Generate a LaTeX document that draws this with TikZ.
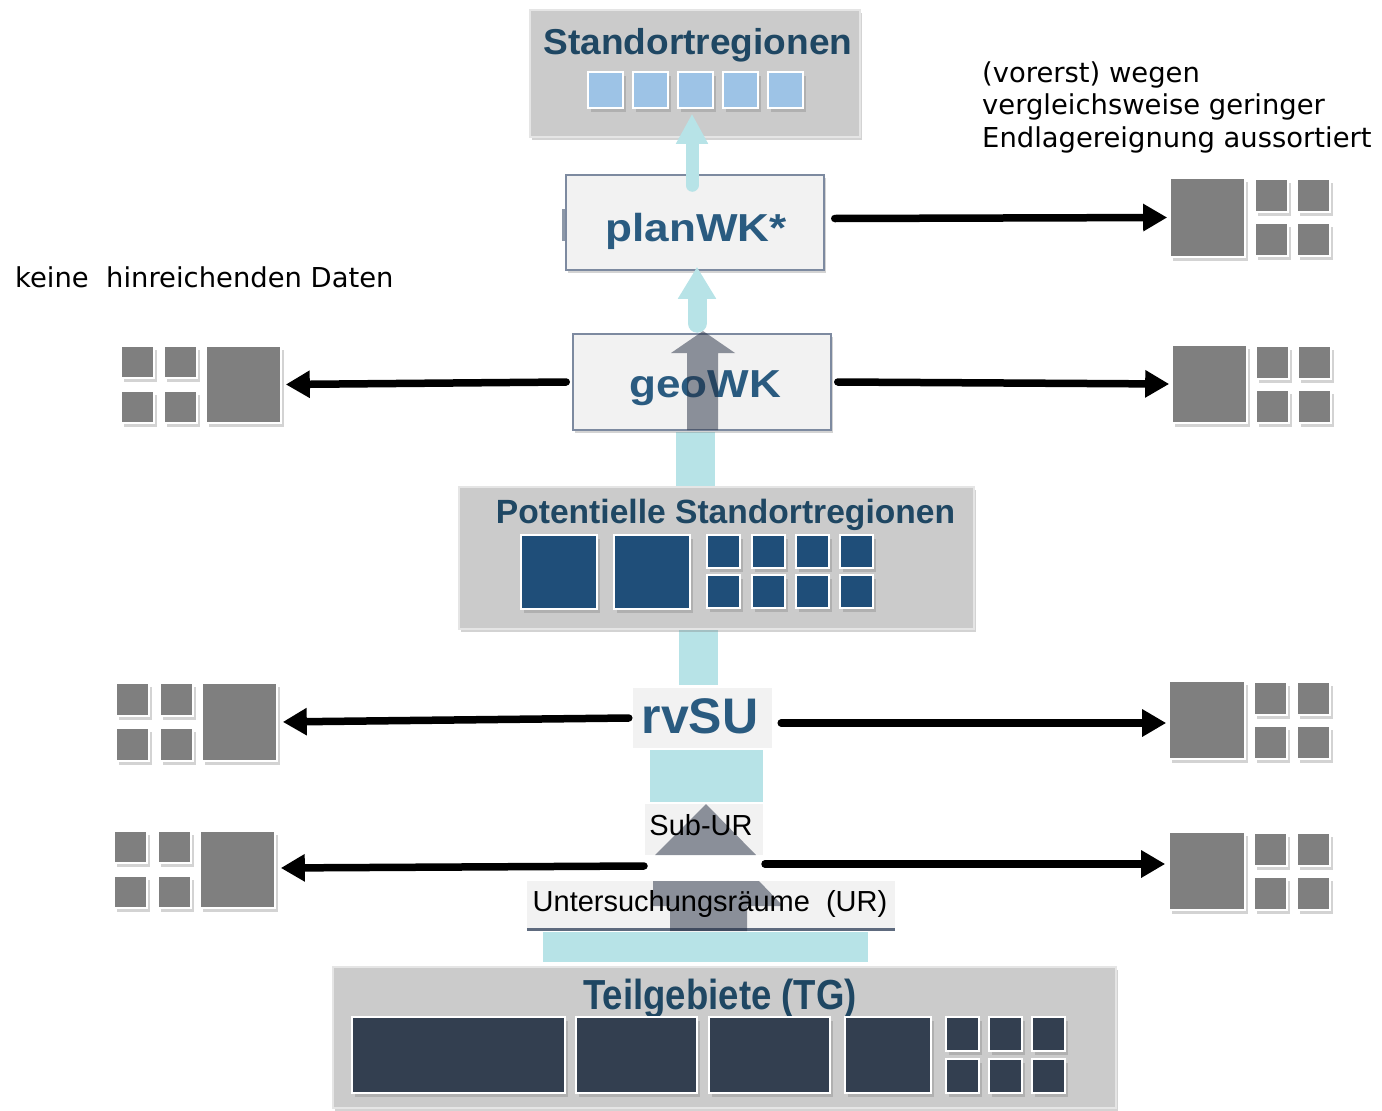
\documentclass[tikz,border=0pt]{standalone}
\usepackage{fontspec}
\usepackage{graphicx}
\setmainfont{Liberation Sans}
\newfontfamily\dejavu{DejaVu Sans}
\usetikzlibrary{arrows.meta,shadows}
\definecolor{boxgray}{HTML}{CBCBCB}
\definecolor{nodefill}{HTML}{F2F2F2}
\definecolor{nodeedge}{HTML}{7D8AA0}
\definecolor{titleblue}{HTML}{1F4763}
\definecolor{labelblue}{HTML}{2A5B80}
\definecolor{lightsq}{HTML}{9DC3E6}
\definecolor{darksq}{HTML}{1F4E79}
\definecolor{slatesq}{HTML}{333F50}
\definecolor{graysq}{HTML}{7F7F7F}
\definecolor{flowcyan}{HTML}{B7E3E7}
\definecolor{flowgray}{HTML}{242E42}
\definecolor{urline}{HTML}{5E6A7E}
\definecolor{stubgray}{HTML}{8D98A8}
\tikzset{
  panel/.style={draw=white!90!black, line width=1.5pt, fill=boxgray, inner sep=0pt,
    drop shadow={shadow xshift=2pt, shadow yshift=-3pt, opacity=0.35}},
  stage/.style={draw=nodeedge, line width=1.5pt, fill=nodefill, inner sep=0pt,
    drop shadow={shadow xshift=2pt, shadow yshift=-3pt, opacity=0.35}},
  flat/.style={fill=nodefill, inner sep=0pt},
  sq/.style={draw=white, line width=1.6pt,
    drop shadow={shadow xshift=2.5pt, shadow yshift=-3.5pt, opacity=0.35}},
  bigsq/.style={sq, fill=graysq, inner sep=0pt},
  titletext/.style={text=titleblue, inner sep=0pt, anchor=base},
  stagetext/.style={text=labelblue, inner sep=0pt, anchor=base},
  plaintext/.style={text=black, inner sep=0pt, anchor=base, font=\fontsize{29}{32}\selectfont},
  sidetext/.style={text=black, inner sep=0pt, anchor=base west, font=\dejavu\fontsize{27.4}{32}\selectfont},
  blk/.style={line width=7.5pt, line cap=round, -{Triangle[length=24pt,width=26pt]}},
  flowarrow/.style={flowcyan, line cap=round},
  ghost/.style={fill=flowgray, opacity=0.5},
}
\begin{document}
\begin{tikzpicture}[x=1pt,y=-1pt]
\useasboundingbox (0,0) rectangle (1382,1111);

% cyan connectors (background)
\fill[flowcyan] (676,432) rectangle (715,487);
\fill[flowcyan] (679,630) rectangle (718,685);
\fill[flowcyan] (650,750) rectangle (763,802);
\fill[flowcyan] (543,932) rectangle (868,962);

% Standortregionen
\node[panel, minimum width=330pt, minimum height=127pt] (std) at (695,73.5) {};
\node[titletext, font=\bfseries\fontsize{36}{40}\selectfont] (stdt) at (698,54) {\scalebox{1.03}[1]{Standortregionen}};
\foreach \x in {588,633,678,723,768} \path[sq, fill=lightsq] (\x,72) rectangle ++(35,36);

% planWK*
\fill[stubgray] (562,209) rectangle (567,241);
\node[stage, minimum width=258pt, minimum height=95pt] (planwk) at (695,222.5) {};
\node[stagetext, font=\bfseries\fontsize{39}{44}\selectfont] (planwkt) at (696,241) {\scalebox{1.13}[1]{planWK*}};
\draw[flowarrow, line width=13pt, -{Triangle[length=30pt,width=30pt]}]
  ([xshift=-3pt,yshift=-11pt]planwk.north) -- ([xshift=-3pt,yshift=24pt]std.south);

% geoWK
\node[stage, minimum width=258pt, minimum height=96pt] (geowk) at (702,382) {};
\node[stagetext, font=\bfseries\fontsize{39}{44}\selectfont] (geowkt) at (705,397) {\scalebox{1.13}[1]{geoWK}};
\fill[ghost] (687,430) -- (687,353) -- (671,353) -- (703,331) -- (735,353) -- (718,353) -- (718,430) -- cycle;
\draw[flowarrow, line width=19pt, -{Triangle[length=32pt,width=36pt]}]
  ([xshift=-5pt,yshift=10pt]geowk.north) -- ([xshift=2pt,yshift=4pt]planwk.south);

% Potentielle Standortregionen
\node[panel, minimum width=515pt, minimum height=142pt] (pot) at (716.5,558) {};
\node[titletext, font=\bfseries\fontsize{33.6}{38}\selectfont] (pott) at (725.5,523) {Potentielle Standortregionen};
\path[sq,fill=darksq] (521,535) rectangle (597,609);
\path[sq,fill=darksq] (614,535) rectangle (690,609);
\foreach \x in {707,752,796,840} {
  \path[sq,fill=darksq] (\x,535) rectangle ++(33,33);
  \path[sq,fill=darksq] (\x,575) rectangle ++(33,33);
}

% rvSU
\node[flat, minimum width=139pt, minimum height=60pt] (rvsu) at (702.5,718) {};
\node[stagetext, font=\bfseries\fontsize{50}{56}\selectfont] (rvsut) at (700,733) {rvSU};

% Sub-UR
\node[flat, minimum width=118pt, minimum height=51pt] (subur) at (704,829.5) {};
\fill[ghost] (706,804) -- (756,855) -- (655,855) -- cycle;
\node[plaintext] (subtouch) at (701,835) {Sub-UR};

% Untersuchungsraeume
\node[flat, minimum width=368pt, minimum height=47pt] (ur) at (711,904.5) {};
\draw[urline, line width=3pt] ([yshift=-1.5pt]ur.south west) -- ([yshift=-1.5pt]ur.south east);
\fill[ghost] (653,881) -- (759,881) -- (783,906) -- (747,906) -- (747,931) -- (670,931) -- (670,906) -- (653,906) -- cycle;
\node[plaintext] (urt) at (710,911) {Untersuchungsräume\ \ (UR)};

% Teilgebiete
\node[panel, minimum width=783pt, minimum height=141pt] (tg) at (724.5,1037.5) {};
\node[titletext, font=\bfseries\fontsize{42}{46}\selectfont] (tgt) at (720,1009) {\scalebox{0.87}[1]{Teilgebiete (TG)}};
\path[sq,fill=slatesq] (352,1017) rectangle (565,1093);
\path[sq,fill=slatesq] (576,1017) rectangle (697,1093);
\path[sq,fill=slatesq] (709,1017) rectangle (830,1093);
\path[sq,fill=slatesq] (845,1017) rectangle (931,1093);
\foreach \x in {946,989,1032} {
  \path[sq,fill=slatesq] (\x,1017) rectangle ++(33,34);
  \path[sq,fill=slatesq] (\x,1059) rectangle ++(33,34);
}

% grey groups right
\node[bigsq, minimum width=75pt, minimum height=79pt] (r1) at (1207.5,217.5) {};
\foreach \x in {1255,1297} \foreach \y in {179,223} \path[sq,fill=graysq] (\x,\y) rectangle ++(33,33);
\node[bigsq, minimum width=75pt, minimum height=78pt] (r2) at (1209.5,384) {};
\foreach \x in {1256,1298} \foreach \y in {346,390} \path[sq,fill=graysq] (\x,\y) rectangle ++(33,33);
\node[bigsq, minimum width=76pt, minimum height=78pt] (r3) at (1207,720) {};
\foreach \x in {1254,1297} \foreach \y in {682,726} \path[sq,fill=graysq] (\x,\y) rectangle ++(33,33);
\node[bigsq, minimum width=76pt, minimum height=78pt] (r4) at (1207,871) {};
\foreach \x in {1254,1297} \foreach \y in {833,877} \path[sq,fill=graysq] (\x,\y) rectangle ++(33,33);

% grey groups left
\node[bigsq, minimum width=75pt, minimum height=77pt] (l1) at (243.5,384.5) {};
\foreach \x in {121,164} \foreach \y in {346,391} \path[sq,fill=graysq] (\x,\y) rectangle ++(33,32);
\node[bigsq, minimum width=75pt, minimum height=78pt] (l2) at (239.5,722) {};
\foreach \x in {116,160} \foreach \y in {683,728} \path[sq,fill=graysq] (\x,\y) rectangle ++(33,33);
\node[bigsq, minimum width=75pt, minimum height=77pt] (l3) at (237.5,869.5) {};
\foreach \x in {114,158} \foreach \y in {831,876} \path[sq,fill=graysq] (\x,\y) rectangle ++(33,32);

% black arrows
\coordinate (subl) at (644,866);
\coordinate (subr) at (765,864);
\draw[blk, shorten >=2pt] ([xshift=10pt,yshift=4pt]planwk.east) -- (r1.west);
\draw[blk, shorten >=4pt] ([xshift=-6pt]geowk.west) -- (l1.east);
\draw[blk, shorten >=2pt] ([xshift=6pt]geowk.east) -- (r2.west);
\draw[blk, shorten >=5pt] ([xshift=-4pt]rvsu.west) -- (l2.east);
\draw[blk, shorten >=2pt] ([xshift=9pt,yshift=-5pt]rvsu.east) -- ([yshift=-3pt]r3.west);
\draw[blk, shorten >=5pt] (subl) -- ([yshift=1.5pt]l3.east);
\draw[blk, shorten >=3pt] (subr) -- ([yshift=7pt]r4.west);

% side texts
\node[sidetext] (nodata) at (15,287) {keine\ \ hinreichenden Daten};
\node[sidetext] (out1) at (982,82) {(vorerst) wegen};
\node[sidetext] (out2) at (982,114.5) {vergleichsweise geringer};
\node[sidetext] (out3) at (982,147) {Endlagereignung aussortiert};
\end{tikzpicture}
\end{document}
